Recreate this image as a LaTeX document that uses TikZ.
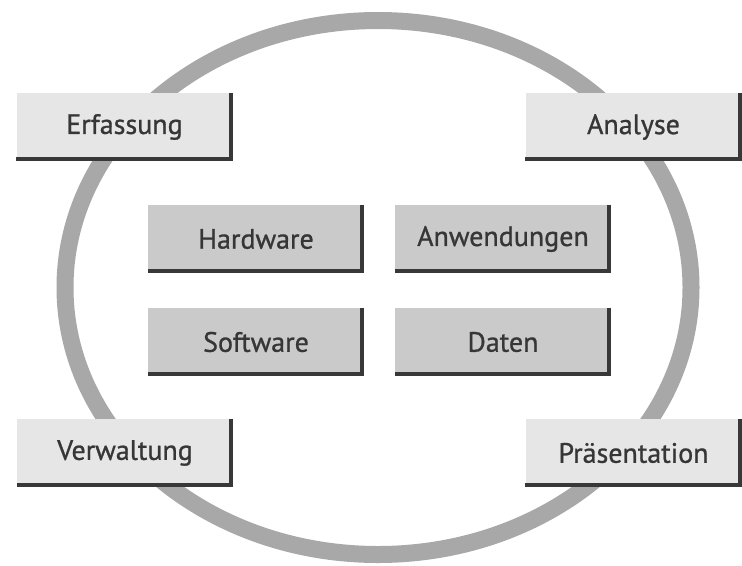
\documentclass[tikz,border=0pt]{standalone}
\usepackage{fontspec}
\setmainfont{PT Sans}
\newfontfamily\boxfont{PT Sans}[FakeBold=0.9]

\definecolor{ringgray}{HTML}{A8A8A8}
\definecolor{lightbox}{HTML}{E6E6E6}
\definecolor{darkbox}{HTML}{CACACA}
\definecolor{edgegray}{HTML}{383838}
\definecolor{textgray}{HTML}{363636}

\tikzset{
  box/.style={inner sep=0pt, minimum width=162pt, minimum height=51pt,
    text=textgray, font=\boxfont\fontsize{21}{25}\selectfont},
  outerbox/.style={box, fill=lightbox},
  innerbox/.style={box, fill=darkbox},
  edgeline/.style={draw=edgegray, line width=3pt}
}

\begin{document}
\begin{tikzpicture}[x=0.75pt, y=-0.75pt]
  \useasboundingbox (0,0) rectangle (742,565);

  % Ring
  \draw [ringgray, line width=12.75pt] (378,287.5) ellipse [x radius=313, y radius=267];

  % Outer tasks
  \node [outerbox] (erfassung)    at (124.5,127) {Erfassung};
  \node [outerbox] (analyse)      at (633.5,127) {Analyse};
  \node [outerbox] (verwaltung)   at (125,453)   {Verwaltung};
  \node [outerbox] (praesentation) at (633.5,453) {Präsentation};

  % Inner components
  \node [innerbox] (hardware)    at (256,239) {Hardware};
  \node [innerbox] (anwendungen) at (503,239) {Anwendungen};
  \node [innerbox] (software)    at (256,342) {Software};
  \node [innerbox] (daten)       at (503,342) {Daten};

  % Dark edges right and below
  \foreach \n in {erfassung, analyse, verwaltung, praesentation,
                  hardware, anwendungen, software, daten}
    \draw [edgeline] ([xshift=-1.5pt]\n.north east)
      -- ([xshift=-1.5pt, yshift=1.5pt]\n.south east)
      -- ([yshift=1.5pt]\n.south west);
\end{tikzpicture}
\end{document}
